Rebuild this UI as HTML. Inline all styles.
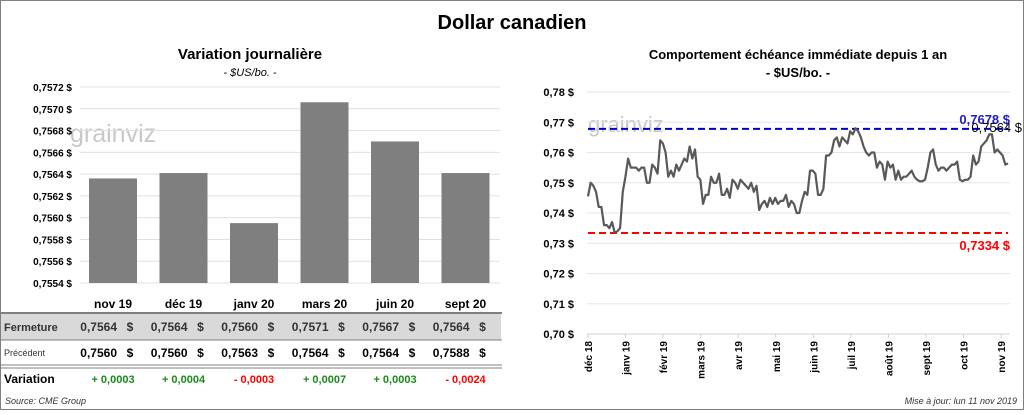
<!DOCTYPE html>
<html><head><meta charset="utf-8"><style>
body{margin:0;background:#fff;font-family:"Liberation Sans",sans-serif;}
svg text{font-family:"Liberation Sans",sans-serif;}
</style></head><body>
<svg id="c" width="1024" height="410" viewBox="0 0 1024 410" xmlns="http://www.w3.org/2000/svg">
<rect x="0.5" y="0.5" width="1023" height="409" fill="#fff" stroke="#7f7f7f"/>
<text x="512" y="29" text-anchor="middle" font-size="20" font-weight="bold">Dollar canadien</text>
<text x="250" y="59" text-anchor="middle" font-size="15" font-weight="bold">Variation  journalière</text>
<text x="250" y="76" text-anchor="middle" font-size="11" font-style="italic">- $US/bo. -</text>
<text x="798" y="59" text-anchor="middle" font-size="13" font-weight="bold">Comportement échéance immédiate depuis 1 an</text>
<text x="798" y="77" text-anchor="middle" font-size="13" font-weight="bold">- $US/bo. -</text>
<text x="70" y="142" font-size="25" fill="#c8c8c8">grainviz</text>
<text x="588" y="132" font-size="22" fill="#c8c8c8">grainviz</text>
<g id="left"></g>
<g id="right"></g>
<g id="table"></g>
<text x="5" y="404" font-size="9" font-style="italic" fill="#333">Source: CME Group</text>
<text x="1017" y="404" text-anchor="end" font-size="9" font-style="italic" fill="#333">Mise à jour: lun 11 nov 2019</text>
</svg>
<script>
const barCats=["nov 19","déc 19","janv 20","mars 20","juin 20","sept 20"];
const barVals=[0.75636,0.75641,0.75595,0.75706,0.75670,0.75641];
const leftTicks=[0.7554,0.7556,0.7558,0.7560,0.7562,0.7564,0.7566,0.7568,0.7570,0.7572];
const closeVals=["0,7564","0,7564","0,7560","0,7571","0,7567","0,7564"];
const prevVals=["0,7560","0,7560","0,7563","0,7564","0,7564","0,7588"];
const varVals=["+ 0,0003","+ 0,0004","- 0,0003","+ 0,0007","+ 0,0003","- 0,0024"];
const lineVals=[0.7455,0.750,0.749,0.747,0.742,0.742,0.736,0.736,0.735,0.737,0.7334,0.734,0.735,0.747,0.752,0.758,0.755,0.755,0.755,0.754,0.755,0.755,0.750,0.750,0.756,0.755,0.753,0.764,0.763,0.760,0.752,0.754,0.752,0.756,0.754,0.756,0.758,0.757,0.762,0.758,0.761,0.752,0.751,0.743,0.746,0.746,0.752,0.750,0.750,0.753,0.746,0.746,0.748,0.745,0.751,0.750,0.748,0.751,0.750,0.749,0.748,0.750,0.747,0.749,0.741,0.743,0.744,0.742,0.745,0.743,0.745,0.743,0.744,0.744,0.746,0.742,0.744,0.743,0.740,0.740,0.744,0.747,0.746,0.754,0.754,0.753,0.746,0.746,0.748,0.759,0.759,0.760,0.764,0.765,0.762,0.765,0.764,0.763,0.767,0.766,0.768,0.767,0.765,0.762,0.760,0.759,0.760,0.760,0.755,0.757,0.756,0.751,0.757,0.755,0.756,0.751,0.754,0.751,0.752,0.752,0.753,0.754,0.752,0.751,0.7505,0.7505,0.751,0.755,0.760,0.761,0.756,0.754,0.755,0.755,0.754,0.755,0.756,0.756,0.757,0.751,0.7505,0.751,0.751,0.752,0.759,0.756,0.757,0.762,0.763,0.764,0.766,0.766,0.760,0.761,0.760,0.759,0.756,0.7564];
const rightTicks=[0.70,0.71,0.72,0.73,0.74,0.75,0.76,0.77,0.78];
const dateLabels=["déc 18","janv 19","févr 19","mars 19","avr 19","mai 19","juin 19","juil 19","août 19","sept 19","oct 19","nov 19"];
const maxVal=0.7678, minVal=0.7334, lastVal=0.7564;

const NS="http://www.w3.org/2000/svg";
function mk(tag,attrs,parent,txt){const e=document.createElementNS(NS,tag);for(const k in attrs)e.setAttribute(k,attrs[k]);if(txt!==undefined)e.textContent=txt;parent.appendChild(e);return e;}
const fmt=(v,d)=>v.toFixed(d).replace('.',',')+' $';

const L=document.getElementById('left');
const ly=v=>87+(0.7572-v)/(0.7572-0.7554)*196;
const band=70.5,x0=77.75,bw=48;
const bx=i=>x0+band*i+band/2;
leftTicks.forEach(t=>{
  const g=mk('line',{x1:80,x2:500,y1:ly(t),y2:ly(t),stroke:'#e0e0e0'},L);
  
  
  const tx=mk('text',{x:72,y:ly(t)+4,'text-anchor':'end','font-size':10,'font-weight':'bold'},L,fmt(t,4));
  
  
});
barVals.forEach((v,i)=>{
  const r=mk('rect',{x:bx(i)-bw/2,y:ly(v),width:bw,height:ly(0.7554)-ly(v),fill:'#7f7f7f'},L);
  
  
});

const T=document.getElementById('table');
mk('rect',{x:1,y:314,width:500,height:26,fill:'#d9d9d9'},T);
[[313,'#7f7f7f',2],[340,'#7f7f7f',1],[365,'#7f7f7f',1],[368,'#7f7f7f',1]].forEach(a=>mk('line',{x1:1,x2:502,y1:a[0],y2:a[0],stroke:a[1],'stroke-width':a[2]},T));
const rl=[["Fermeture",331,11,'bold','#333'],["Précédent",356,9,'normal','#333'],["Variation",383,12,'bold','#000']];
rl.forEach(r=>{const t=mk('text',{x:4,y:r[1],'font-size':r[2],'font-weight':r[3],fill:r[4]},T,r[0]);});
barCats.forEach((c,i)=>{
  const cx=bx(i);
  const h=mk('text',{x:cx,y:308,'text-anchor':'middle','font-size':12,'font-weight':'bold'},T,c);
  
  
  const a=mk('text',{x:cx+4,y:331,'text-anchor':'end','font-size':12,'font-weight':'bold',fill:'#333'},T,closeVals[i]);
  
  
  const a2=mk('text',{x:cx+17,y:331,'text-anchor':'middle','font-size':12,'font-weight':'bold',fill:'#333'},T,'$');
  
  
  const b=mk('text',{x:cx+4,y:357,'text-anchor':'end','font-size':12,'font-weight':'bold'},T,prevVals[i]);
  
  
  const b2=mk('text',{x:cx+17,y:357,'text-anchor':'middle','font-size':12,'font-weight':'bold'},T,'$');
  
  
  const v=mk('text',{x:cx,y:383,'text-anchor':'middle','font-size':11,'font-weight':'bold',fill:varVals[i][0]=='-'?'#ff0000':'#1a8a1a'},T,varVals[i]);
  
  
});

const R=document.getElementById('right');
const ry=v=>92+(0.78-v)/0.08*242;
const px0=588,px1=1008;
const rx=i=>px0+(px1-px0)*i/(lineVals.length-1);
rightTicks.forEach(t=>{
  const g=mk('line',{x1:587,x2:1010,y1:ry(t),y2:ry(t),stroke:t==0.70?'#d0d0d0':'#e6e6e6'},R);
  
  
  const tx=mk('text',{x:574,y:ry(t)+4,'text-anchor':'end','font-size':11,'font-weight':'bold'},R,fmt(t,2));
  
  
});
dateLabels.forEach((d,i)=>{
  const x=588+i*37.55;
  mk('line',{x1:x,x2:x,y1:334,y2:338,stroke:'#d0d0d0'},R);
  const t=mk('text',{x:0,y:0,transform:`translate(${x+4},341) rotate(-90)`,'text-anchor':'end','font-size':10,'font-weight':'bold'},R,d);
  
  
});
const mx=mk('line',{x1:588,x2:1008,y1:ry(maxVal),y2:ry(maxVal),stroke:'#0000cc','stroke-width':2,'stroke-dasharray':'7,4'},R);


const mn=mk('line',{x1:588,x2:1008,y1:ry(minVal),y2:ry(minVal),stroke:'#ff0000','stroke-width':2,'stroke-dasharray':'7,4'},R);


const pl=mk('polyline',{points:lineVals.map((v,i)=>rx(i)+','+ry(v)).join(' '),fill:'none',stroke:'#595959','stroke-width':2.2,'stroke-linejoin':'round'},R);


const t1=mk('text',{x:1010,y:ry(maxVal)-5,'text-anchor':'end','font-size':13,'font-weight':'bold',fill:'#2020c0'},R,fmt(maxVal,4));


const t2=mk('text',{x:1022,y:ry(maxVal)+3,'text-anchor':'end','font-size':13,fill:'#000'},R,fmt(lastVal,4));


const t3=mk('text',{x:1010,y:ry(minVal)+17,'text-anchor':'end','font-size':13,'font-weight':'bold',fill:'#ff0000'},R,fmt(minVal,4));


</script>
</body></html>
